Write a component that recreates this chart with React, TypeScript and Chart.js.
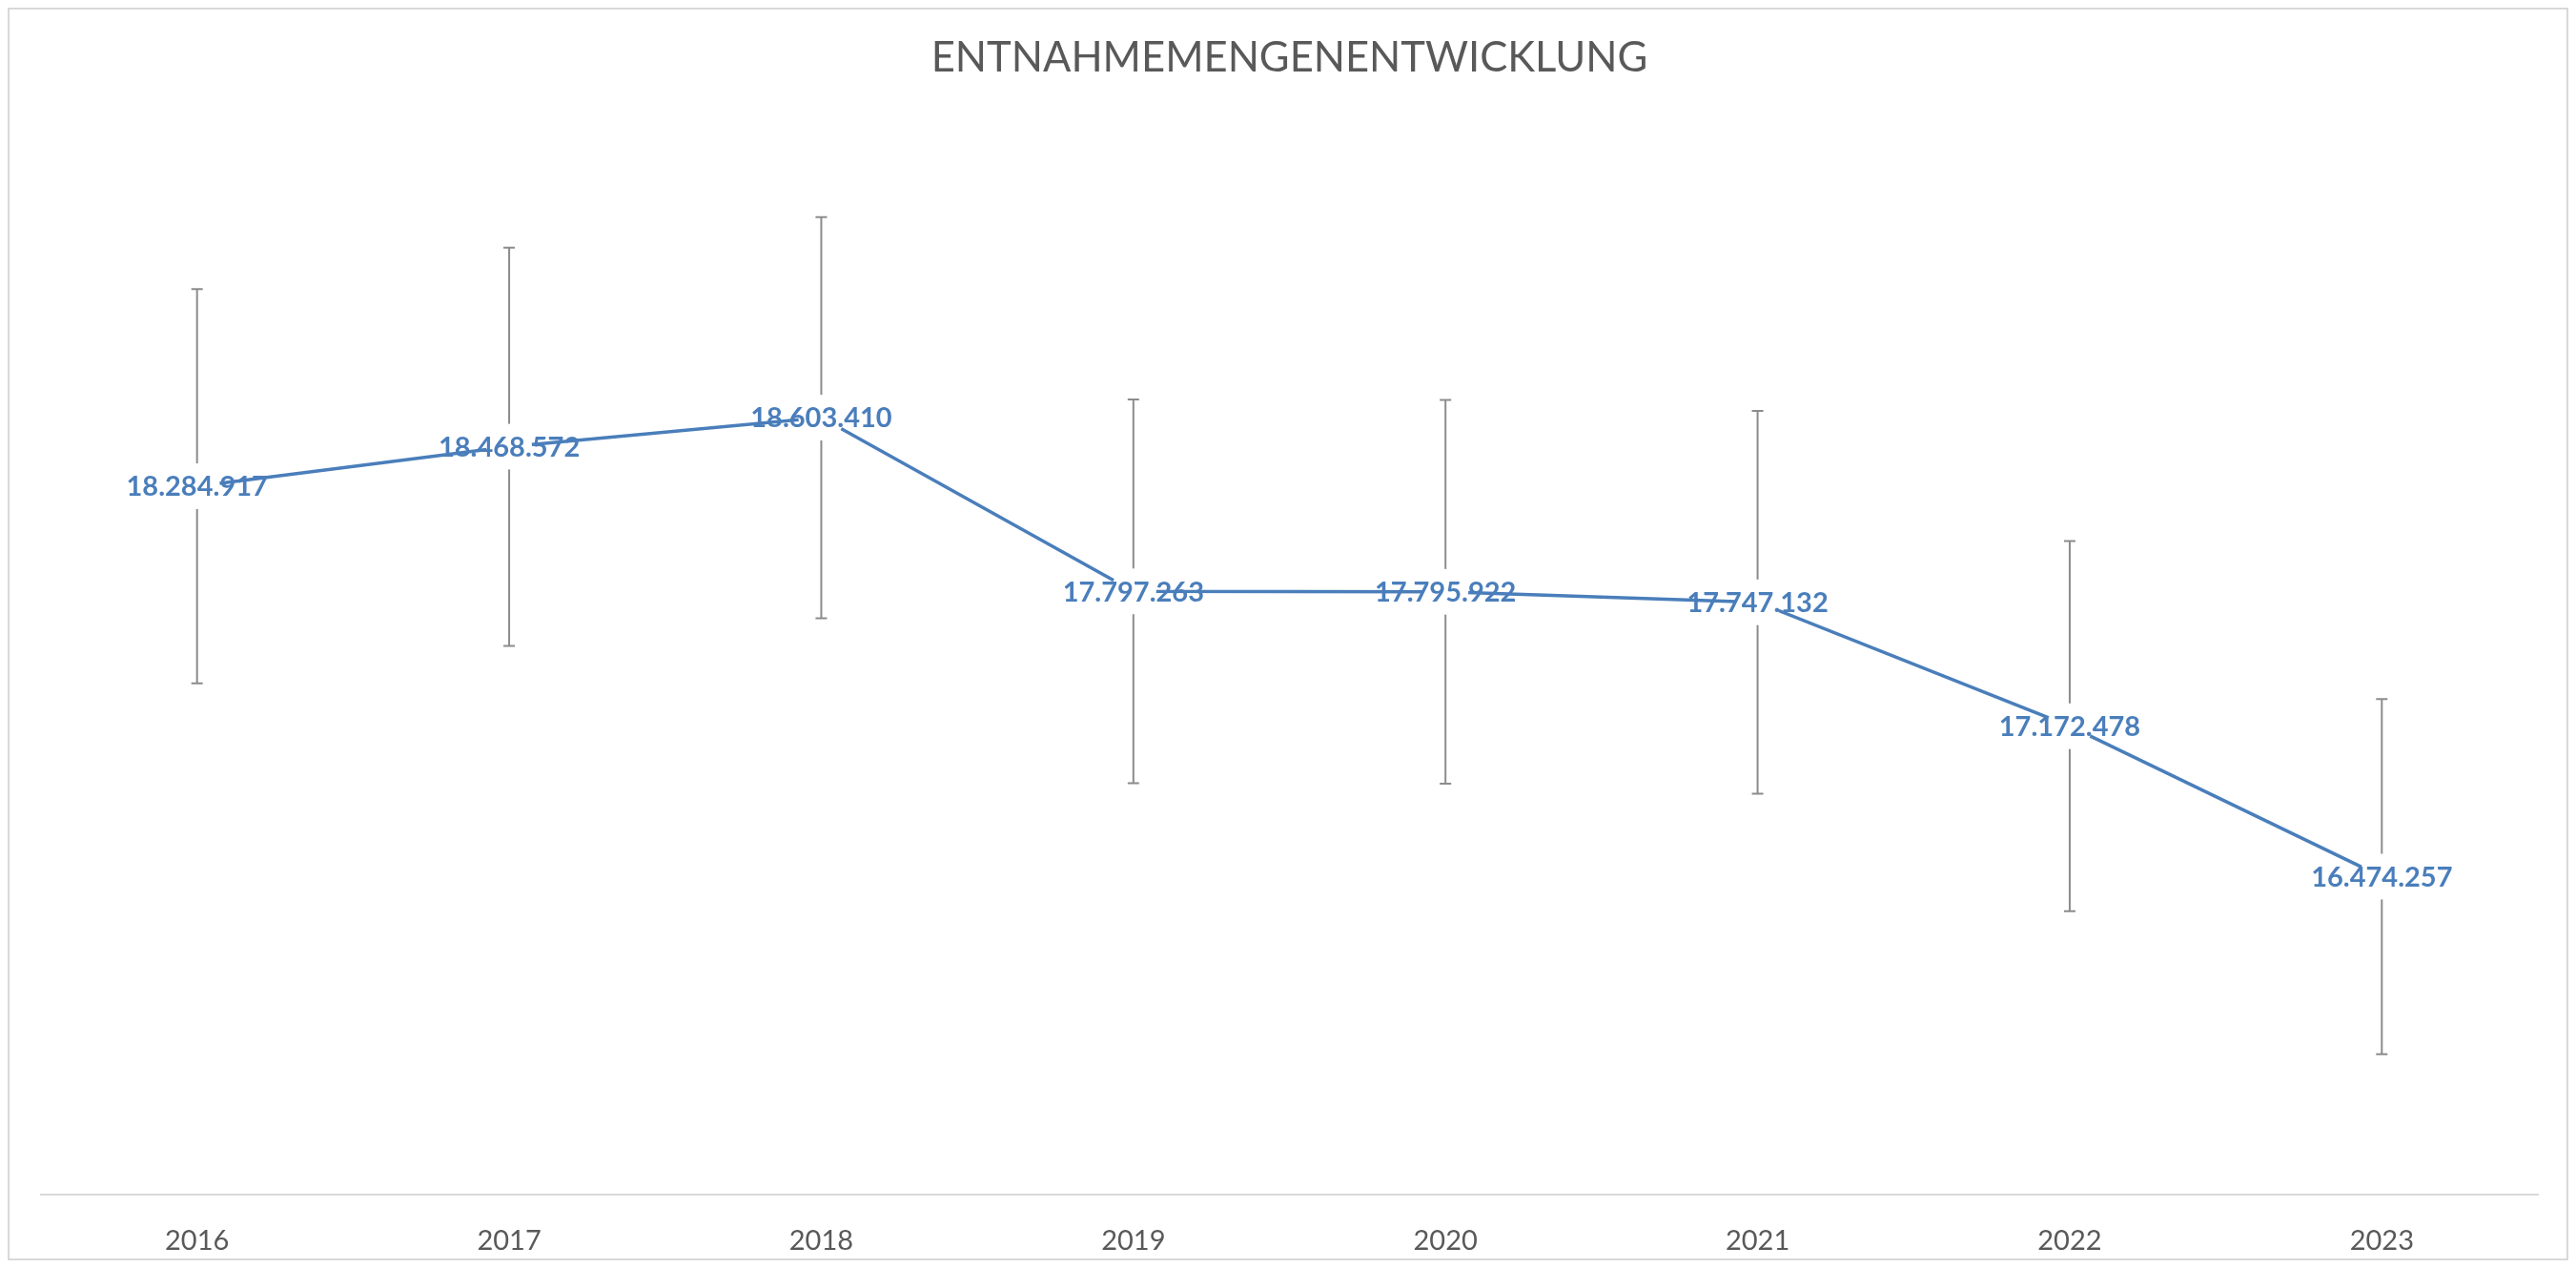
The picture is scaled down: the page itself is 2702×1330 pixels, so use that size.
import React, { useEffect, useRef } from 'react';
import { Chart, registerables } from 'chart.js';

Chart.register(...registerables);

const TITLE = 'ENTNAHMEMENGENENTWICKLUNG';
const years = ['2016', '2017', '2018', '2019', '2020', '2021', '2022', '2023'];
const amounts = [18284917, 18468572, 18603410, 17797263, 17795922, 17747132, 17172478, 16474257];
const errorPercent = 5;
const yMin = 15000000;
const yMax = 20000000;

const LINE_COLOR = '#4a7ebb';
const ERR_COLOR = '#8c8c8c';
const TEXT_GRAY = '#595959';
const FONT = 'Lato, "Open Sans", sans-serif';

const fmt = (v: number) => String(Math.round(v)).replace(/\B(?=(\d{3})+(?!\d))/g, '.');

const errorBarPlugin = {
  id: 'errorBars',
  beforeDatasetsDraw(chart: any) {
    const meta = chart.getDatasetMeta(0);
    const yScale = chart.scales.y;
    const ctx = chart.ctx;
    ctx.save();
    ctx.strokeStyle = ERR_COLOR;
    ctx.lineWidth = 2;
    meta.data.forEach((pt: any, i: number) => {
      const v = amounts[i];
      const d = (v * errorPercent) / 100;
      const top = yScale.getPixelForValue(v + d);
      const bot = yScale.getPixelForValue(v - d);
      const x = pt.x;
      ctx.beginPath();
      ctx.moveTo(x, top);
      ctx.lineTo(x, bot);
      ctx.moveTo(x - 6, top);
      ctx.lineTo(x + 6, top);
      ctx.moveTo(x - 6, bot);
      ctx.lineTo(x + 6, bot);
      ctx.stroke();
    });
    ctx.restore();
  },
};

const labelPlugin = {
  id: 'valueLabels',
  afterDatasetsDraw(chart: any) {
    const meta = chart.getDatasetMeta(0);
    const ctx = chart.ctx;
    ctx.save();
    ctx.fillStyle = LINE_COLOR;
    ctx.font = `bold 29px ${FONT}`;
    ctx.textAlign = 'center';
    ctx.textBaseline = 'middle';
    meta.data.forEach((pt: any, i: number) => {
      ctx.fillText(fmt(amounts[i]), pt.x, pt.y + 1);
    });
    ctx.restore();
  },
};

export default function App() {
  const ref = useRef<HTMLCanvasElement | null>(null);

  useEffect(() => {
    if (!ref.current) return;
    const chart = new Chart(ref.current, {
      type: 'line',
      data: {
        labels: years,
        datasets: [
          {
            label: 'Entnahmemenge',
            data: amounts,
            borderColor: LINE_COLOR,
            borderWidth: 3.5,
            tension: 0,
            pointRadius: 24,
            pointHoverRadius: 24,
            pointBackgroundColor: '#ffffff',
            pointBorderWidth: 0,
            pointBorderColor: 'rgba(0,0,0,0)',
            fill: false,
          },
        ],
      },
      options: {
        animation: false,
        responsive: false,
        maintainAspectRatio: false,
        layout: { padding: { left: 33, right: 30, top: 0, bottom: 4 } },
        plugins: {
          legend: { display: false },
          tooltip: { enabled: false },
          title: {
            display: true,
            text: TITLE,
            color: TEXT_GRAY,
            font: { family: FONT, size: 43.5, weight: 'normal' },
            padding: { top: 25, bottom: 35 },
          },
        },
        scales: {
          x: {
            offset: true,
            grid: { display: false },
            border: { display: true, color: '#d9d9d9', width: 2 },
            ticks: {
              color: TEXT_GRAY,
              font: { family: FONT, size: 29 },
              padding: 23,
              maxRotation: 0,
            },
            afterFit: (scale: any) => {
              scale.height = 63;
            },
          },
          y: {
            display: false,
            min: yMin,
            max: yMax,
          },
        },
      },
      plugins: [errorBarPlugin, labelPlugin],
    });
    return () => chart.destroy();
  }, []);

  return (
    <div
      style={{
        width: 2686,
        height: 1314,
        border: '2px solid #d9d9d9',
        boxSizing: 'border-box',
        background: '#ffffff',
      }}
    >
      <canvas ref={ref} width={2682} height={1310} style={{ display: 'block' }} />
    </div>
  );
}
